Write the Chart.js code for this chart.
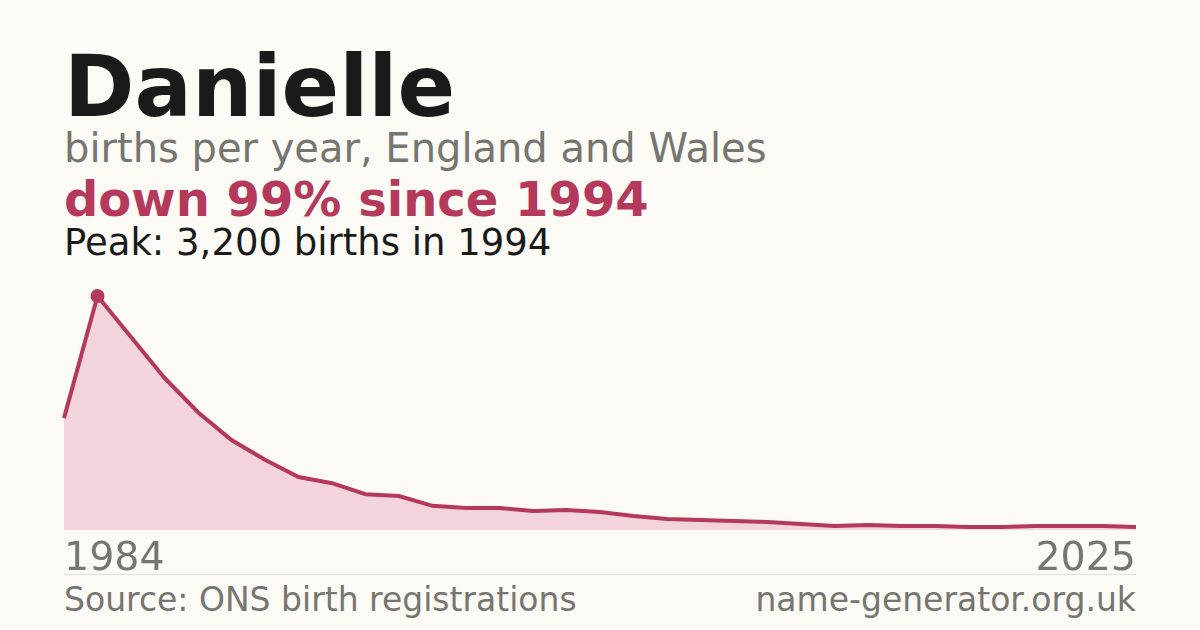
<!DOCTYPE html>
<html><head><meta charset="utf-8">
<script src="https://cdn.jsdelivr.net/npm/chart.js@4/dist/chart.umd.min.js"></script>
<style>
body{margin:0;width:1200px;height:630px;background:#fbfaf5;font-family:"DejaVu Sans",sans-serif;position:relative;overflow:hidden}
.t{position:absolute;left:64px;white-space:nowrap;line-height:1}
.r{position:absolute;right:64px;white-space:nowrap;line-height:1}
#cw{position:absolute;left:54px;top:286px;width:1092px;height:254px}
</style></head><body>
<div class="t" style="top:44px;font-size:85px;font-weight:bold;color:#1a1a1a">Danielle</div>
<div class="t" style="top:128px;font-size:40px;color:#777570">births per year, England and Wales</div>
<div class="t" style="top:175px;font-size:48px;font-weight:bold;color:#b5395a">down 99% since 1994</div>
<div class="t" style="top:224px;font-size:37px;color:#1a1a1a">Peak: 3,200 births in 1994</div>
<div id="cw"><canvas id="c"></canvas></div>
<div class="t" style="top:537px;font-size:39.5px;color:#777570">1984</div>
<div class="r" style="top:537px;font-size:39.5px;color:#777570">2025</div>
<div style="position:absolute;left:64px;width:1072px;top:574px;border-top:1px solid #e2e0da"></div>
<div class="t" style="top:583px;font-size:33px;color:#777570">Source: ONS birth registrations</div>
<div class="r" style="top:583px;font-size:33px;color:#777570">name-generator.org.uk</div>
<script>
const years=["1984","1994","1995","1996","1997","1998","1999","2000","2001","2002","2003","2004","2005","2006","2007","2008","2009","2010","2011","2012","2013","2014","2015","2016","2017","2018","2019","2020","2021","2022","2023","2024","2025"];
const births=[1530,3200,2640,2080,1610,1230,960,725,640,490,465,330,300,300,260,275,245,190,150,137,123,110,82,55,68,55,55,41,41,55,55,55,41];
const peakIdx=births.indexOf(Math.max(...births));
new Chart(document.getElementById('c'),{type:'line',
data:{labels:years,datasets:[{data:births,borderColor:'#b5395a',backgroundColor:'#f2d4da',fill:'origin',borderWidth:4,tension:0,clip:false,
pointStyle:'circle',pointRadius:births.map((v,i)=>i===peakIdx?7:0),pointBackgroundColor:'#b5395a',pointBorderColor:'#b5395a',pointBorderWidth:0}]},
options:{responsive:true,maintainAspectRatio:false,animation:false,layout:{padding:10},
plugins:{legend:{display:false},tooltip:{enabled:false}},
scales:{x:{display:false,offset:false},y:{display:false,min:0,max:3200}}}});
</script>
</body></html>
